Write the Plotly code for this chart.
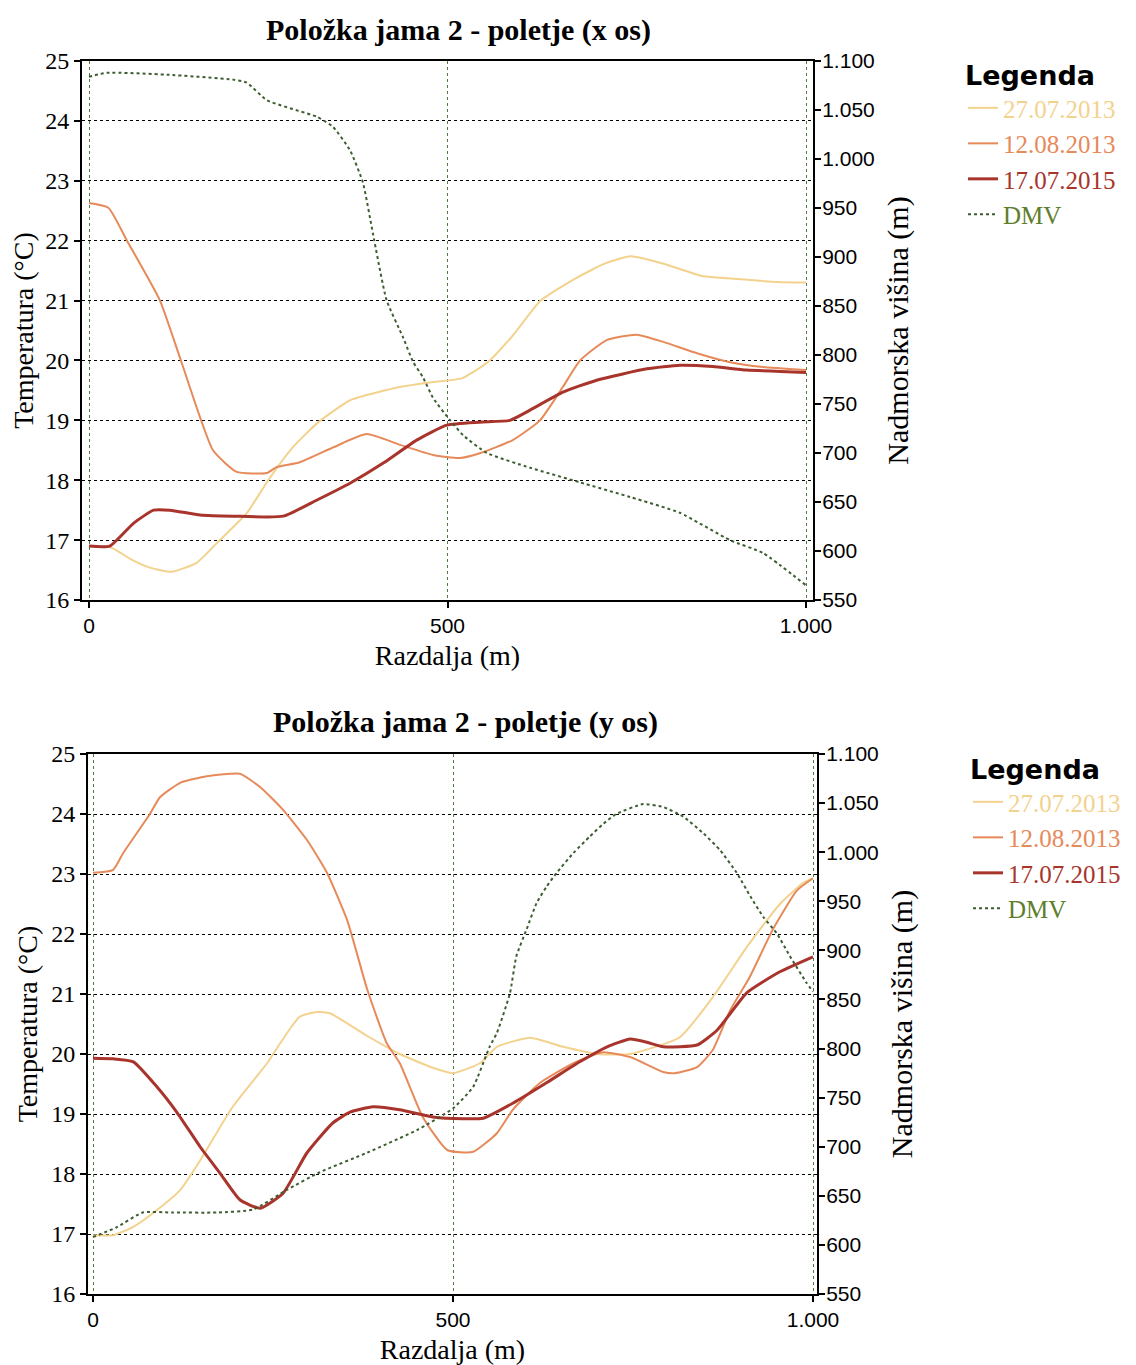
import plotly.graph_objects as go

# ---------------- DATA ----------------
# Top chart (x os)
top_x_27 = [0, 30, 60, 85, 115, 150, 180, 220, 250, 285, 320, 365, 435, 480, 520, 556, 590, 630, 680, 720, 755, 800, 855, 905, 960, 1000]
top_t_27 = [16.9, 16.88, 16.67, 16.54, 16.47, 16.62, 16.97, 17.45, 18.0, 18.56, 18.97, 19.34, 19.56, 19.64, 19.7, 19.97, 20.4, 21.0, 21.38, 21.62, 21.74, 21.62, 21.41, 21.36, 21.31, 21.3]

top_x_12 = [0, 27, 53, 99, 129, 173, 206, 248, 262, 294, 341, 387, 434, 480, 517, 545, 591, 629, 661, 685, 722, 764, 801, 848, 894, 940, 1000]
top_t_12 = [22.63, 22.55, 22.0, 21.0, 19.97, 18.5, 18.14, 18.12, 18.22, 18.3, 18.55, 18.77, 18.59, 18.42, 18.37, 18.45, 18.67, 19.0, 19.56, 20.0, 20.34, 20.43, 20.31, 20.12, 19.97, 19.89, 19.84]

top_x_17 = [0, 29, 62, 90, 113, 155, 201, 271, 318, 364, 411, 457, 499, 545, 587, 615, 661, 708, 778, 824, 870, 917, 1000]
top_t_17 = [16.9, 16.9, 17.28, 17.5, 17.5, 17.42, 17.4, 17.4, 17.67, 17.95, 18.29, 18.67, 18.92, 18.97, 19.0, 19.17, 19.47, 19.67, 19.86, 19.92, 19.9, 19.84, 19.8]

top_x_dmv = [0, 25, 109, 201, 220, 248, 318, 340, 364, 382, 396, 415, 438, 452, 466, 480, 503, 522, 555, 615, 685, 755, 824, 894, 940, 1000]
top_e_dmv = [1084, 1088, 1086, 1081, 1078, 1060, 1043, 1033, 1009, 976, 924, 856, 818, 793, 777, 756, 734, 718, 700, 685, 670, 655, 639, 611, 598, 565]

# Bottom chart (y os)
bot_x_27 = [0, 28, 56, 89, 121, 149, 194, 242, 260, 287, 311, 329, 381, 426, 472, 500, 538, 561, 607, 653, 700, 746, 815, 861, 908, 954, 986, 1000]
bot_t_27 = [16.98, 16.98, 17.12, 17.4, 17.73, 18.23, 19.12, 19.85, 20.18, 20.62, 20.7, 20.68, 20.3, 20.0, 19.77, 19.68, 19.85, 20.12, 20.27, 20.12, 20.0, 20.0, 20.28, 20.95, 21.78, 22.5, 22.85, 22.93]

bot_x_12 = [0, 28, 42, 79, 93, 121, 158, 204, 232, 264, 297, 325, 353, 381, 408, 426, 458, 492, 528, 561, 583, 621, 668, 708, 746, 792, 808, 839, 861, 885, 912, 944, 978, 1000]
bot_t_12 = [23.02, 23.07, 23.35, 24.0, 24.28, 24.52, 24.63, 24.67, 24.45, 24.07, 23.57, 23.02, 22.23, 21.07, 20.18, 19.85, 18.95, 18.4, 18.37, 18.68, 19.07, 19.52, 19.85, 20.03, 19.95, 19.7, 19.68, 19.78, 20.07, 20.73, 21.28, 22.07, 22.73, 22.93]

bot_x_17 = [0, 28, 56, 89, 117, 149, 176, 204, 232, 264, 297, 333, 357, 389, 426, 472, 514, 542, 583, 631, 676, 714, 746, 768, 792, 839, 867, 908, 954, 1000]
bot_t_17 = [19.93, 19.92, 19.87, 19.45, 19.02, 18.45, 18.02, 17.57, 17.43, 17.68, 18.35, 18.85, 19.03, 19.12, 19.07, 18.95, 18.92, 18.93, 19.18, 19.53, 19.87, 20.12, 20.25, 20.2, 20.12, 20.15, 20.4, 21.02, 21.37, 21.62]

bot_x_dmv = [0, 33, 69, 111, 172, 222, 269, 315, 381, 450, 500, 528, 551, 561, 579, 588, 602, 616, 630, 644, 667, 690, 709, 727, 764, 792, 820, 848, 871, 894, 913, 931, 950, 968, 991, 1000]
bot_e_dmv = [608, 618, 633, 633, 633, 636, 656, 674, 694, 717, 739, 761, 802, 816, 856, 894, 921, 948, 965, 979, 999, 1016, 1029, 1039, 1049, 1046, 1036, 1019, 1002, 979, 955, 934, 917, 894, 867, 858]

series_names = ["27.07.2013", "12.08.2013", "17.07.2015", "DMV"]
titles = ["Položka jama 2 - poletje (x os)", "Položka jama 2 - poletje (y os)"]
temp_ticks = list(range(16, 26))
elev_ticks = list(range(550, 1101, 50))
dist_ticks = [0, 500, 1000]

# ---------------- STYLE ----------------
C27 = "#F3D28E"
C12 = "#E68A5A"
C17 = "#A8342C"
CDMV_LINE = "#3E5E32"
CDMV_TXT = "#5E7E2C"
colors = [C27, C12, C17]
widths = [2, 2, 3]
SERIF = "Liberation Serif"
SANS = "Liberation Sans"

PAGE_OFF = 8            # default body margin of the html page
W, H = 1136 - PAGE_OFF, 1365 - PAGE_OFF
fig = go.Figure()

panels = [
    dict(xs=[top_x_27, top_x_12, top_x_17], ts=[top_t_27, top_t_12, top_t_17], xd=top_x_dmv, ed=top_e_dmv,
         xa="x", ya="y", ya2="y2", legend="legend"),
    dict(xs=[bot_x_27, bot_x_12, bot_x_17], ts=[bot_t_27, bot_t_12, bot_t_17], xd=bot_x_dmv, ed=bot_e_dmv,
         xa="x2", ya="y3", ya2="y4", legend="legend2"),
]

for p in panels:
    for i in range(3):
        fig.add_trace(go.Scatter(
            x=p["xs"][i], y=p["ts"][i], mode="lines",
            line=dict(color=colors[i], width=widths[i], shape="spline", smoothing=0.5),
            name=f"<span style='color:{colors[i]}'>{series_names[i]}</span>",
            xaxis=p["xa"], yaxis=p["ya"], legend=p["legend"]))
    fig.add_trace(go.Scatter(
        x=p["xd"], y=p["ed"], mode="lines",
        line=dict(color=CDMV_LINE, width=2, dash="dot", shape="spline", smoothing=0.5),
        name=f"<span style='color:{CDMV_TXT}'>{series_names[3]}</span>",
        xaxis=p["xa"], yaxis=p["ya2"], legend=p["legend"]))

def px_x(v):
    return (v - PAGE_OFF) / W

def px_y(v):
    return 1 - (v - PAGE_OFF) / H

# panel geometry (screen pixels)
geo = [dict(l=82, r=813, t=61, b=600, x0=89, x1000=806),
       dict(l=88, r=817, t=754, b=1294, x0=93, x1000=813)]

axis_common = dict(showline=True, linecolor="black", linewidth=2, ticks="outside",
                   ticklen=6, tickcolor="black", tickwidth=1.5, zeroline=False, automargin=False)

layout = dict(width=W, height=H, margin=dict(l=0, r=0, t=0, b=0, autoexpand=False),
              paper_bgcolor="white", plot_bgcolor="white", separators=",.",
              showlegend=True)

names = [("xaxis", "yaxis", "yaxis2", "x", "y"), ("xaxis2", "yaxis3", "yaxis4", "x2", "y3")]
for g, (xn, yn, y2n, xr, yr) in zip(geo, names):
    scale = (g["x1000"] - g["x0"]) / 1000
    xmin = -(g["x0"] - g["l"]) / scale
    xmax = (g["r"] - g["x0"]) / scale
    layout[xn] = dict(domain=[px_x(g["l"]), px_x(g["r"])], anchor=yr, range=[xmin, xmax],
                      tickvals=dist_ticks, tickformat=",d", mirror=True,
                      showgrid=True, gridcolor="#4E7A3E", griddash="dot", gridwidth=1,
                      tickfont=dict(family=SANS, size=21, color="black"),
                      title=dict(text="Razdalja (m)", font=dict(family=SERIF, size=28, color="black"), standoff=9),
                      **axis_common)
    layout[yn] = dict(domain=[px_y(g["b"]), px_y(g["t"])], anchor=xr, range=[16, 25],
                      tickvals=temp_ticks, showgrid=True, gridcolor="black", griddash="dot", gridwidth=1,
                      tickfont=dict(family=SERIF, size=24, color="black"),
                      title=dict(text="Temperatura (°C)", font=dict(family=SERIF, size=28, color="black"), standoff=5),
                      **axis_common)
    layout[y2n] = dict(domain=[px_y(g["b"]), px_y(g["t"])], anchor=xr, overlaying=yr, side="right",
                       range=[550, 1100], tickvals=elev_ticks, tickformat=",d", showgrid=False,
                       ticklabelstandoff=-3,
                       tickfont=dict(family=SANS, size=21, color="black"),
                       title=dict(text="Nadmorska višina (m)", font=dict(family=SERIF, size=30, color="black"), standoff=13),
                       **axis_common)

legend_common = dict(xanchor="left", yanchor="top", bgcolor="rgba(0,0,0,0)",
                     font=dict(family=SERIF, size=25, color="black"),
                     title=dict(text="<b>Legenda</b>", font=dict(family="DejaVu Sans", size=27, color="black")),
                     itemwidth=30, tracegroupgap=0)
layout["legend"] = dict(x=px_x(963), y=px_y(50), **legend_common)
layout["legend2"] = dict(x=px_x(968), y=px_y(744), **legend_common)

layout["annotations"] = [
    dict(text=f"<b>{titles[0]}</b>", x=px_x(458), y=px_y(30), xref="paper", yref="paper",
         showarrow=False, xanchor="center", yanchor="middle", font=dict(family=SERIF, size=30, color="black")),
    dict(text=f"<b>{titles[1]}</b>", x=px_x(465), y=px_y(722), xref="paper", yref="paper",
         showarrow=False, xanchor="center", yanchor="middle", font=dict(family=SERIF, size=30, color="black")),
]

fig.update_layout(**layout)
fig.write_html("out.html")
